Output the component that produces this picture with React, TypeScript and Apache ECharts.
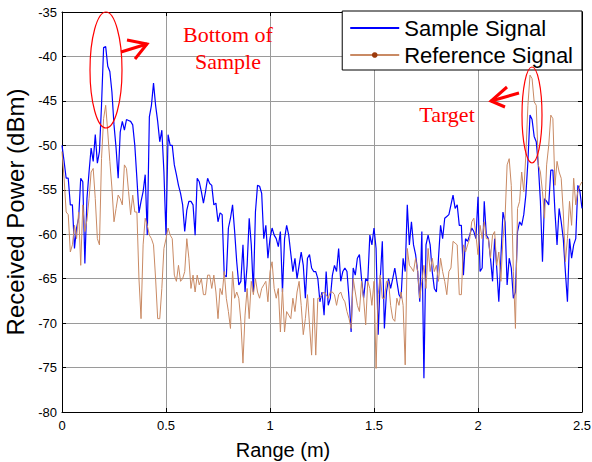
import React, { useEffect, useRef } from "react";
import * as echarts from "echarts";

// Range samples (m): 0.00 .. 2.50, one sample every 0.01 m
const rangeStart = 0;
const rangeStepM = 0.01;

// Received power of the sample signal (dBm)
const sampleSignal = [
  -50.0, -51.8, -53.7, -53.7, -56.7, -56.7, -61.6, -59.3, -58.2, -53.7,
  -54.1, -63.3, -56.0, -53.0, -50.3, -51.8, -48.8, -52.0, -50.7, -45.5,
  -39.0, -38.9, -41.1, -41.7, -44.0, -47.7, -50.3, -53.7, -48.5, -47.3,
  -48.3, -47.1, -47.2, -47.3, -47.7, -50.0, -53.7, -57.6, -56.3, -55.2,
  -53.3, -60.1, -46.8, -45.5, -43.0, -45.5, -47.3, -49.6, -48.3, -53.0,
  -60.1, -48.8, -50.0, -50.0, -52.2, -53.3, -54.5, -55.4, -56.7, -59.7,
  -57.3, -56.3, -56.3, -56.7, -60.1, -53.7, -54.1, -55.2, -56.5, -55.2,
  -53.7, -54.3, -54.5, -56.7, -56.5, -58.6, -57.6, -57.8, -64.6, -64.8,
  -59.3, -58.2, -56.7, -59.7, -63.1, -65.7, -65.3, -61.2, -66.5, -63.5,
  -58.2, -61.2, -66.5, -57.5, -54.5, -54.6, -55.4, -60.5, -59.0, -62.7,
  -60.5, -59.3, -60.1, -60.5, -61.4, -59.7, -66.5, -60.5, -59.0, -60.1,
  -62.2, -64.2, -62.7, -65.0, -63.5, -62.0, -63.5, -67.2, -62.7, -62.3,
  -63.8, -64.2, -64.2, -65.0, -67.6, -66.5, -69.1, -64.2, -68.0, -67.2,
  -64.6, -63.5, -64.2, -61.6, -65.3, -64.2, -63.8, -64.2, -67.2, -71.0,
  -63.8, -64.6, -62.7, -62.3, -65.0, -67.2, -65.0, -65.3, -60.1, -61.2,
  -59.3, -61.6, -71.3, -65.0, -60.8, -70.6, -66.5, -65.0, -66.1, -65.0,
  -63.8, -65.3, -66.8, -67.2, -62.7, -64.2, -56.7, -61.2, -58.6, -61.2,
  -62.3, -64.2, -67.6, -59.7, -76.2, -61.2, -60.1, -61.2, -64.2, -66.1,
  -66.5, -62.7, -59.0, -60.5, -58.2, -58.0, -57.8, -56.7, -55.6, -57.1,
  -56.7, -59.0, -59.0, -64.6, -60.5, -60.8, -60.1, -59.3, -59.7, -60.5,
  -55.8, -64.2, -63.8, -56.3, -60.1, -60.5, -62.7, -65.3, -60.5, -63.8,
  -67.6, -62.7, -57.5, -58.6, -65.7, -62.7, -63.8, -67.2, -66.5, -59.7,
  -58.6, -59.0, -57.8, -55.6, -51.8, -46.6, -47.1, -49.0, -49.6, -52.2,
  -56.3, -63.1, -56.0, -56.3, -56.7, -52.8, -52.8, -57.5, -61.2, -57.1,
  -58.6, -60.5, -64.2, -67.6, -60.5, -62.7, -61.2, -60.5, -54.5, -55.2,
  -57.1,
];

// Received power of the reference signal (dBm)
const referenceSignal = [
  -50.7, -53.7, -57.5, -57.8, -62.0, -61.2, -59.0, -60.5, -57.5, -63.5,
  -56.7, -59.7, -58.4, -56.0, -53.0, -52.6, -56.0, -60.5, -61.2, -51.5,
  -47.0, -45.5, -48.5, -51.8, -54.8, -58.6, -57.1, -55.6, -56.0, -56.7,
  -52.2, -52.6, -55.2, -57.8, -55.6, -57.5, -57.5, -65.0, -69.5, -61.2,
  -58.2, -59.0, -60.1, -60.5, -61.2, -65.0, -69.5, -69.5, -66.1, -61.6,
  -60.5, -59.3, -60.1, -60.5, -64.6, -65.3, -63.5, -65.3, -65.0, -64.2,
  -60.5, -62.7, -66.1, -64.6, -66.5, -64.6, -65.7, -65.0, -66.8, -66.8,
  -64.6, -64.6, -66.1, -64.6, -66.5, -69.5, -66.1, -66.8, -64.2, -67.2,
  -68.7, -70.6, -64.2, -67.2, -66.5, -67.2, -69.8, -74.5, -69.1, -66.1,
  -69.5, -65.3, -66.8, -65.0, -66.5, -67.2, -66.1, -65.7, -65.3, -67.6,
  -64.2, -63.1, -66.1, -67.2, -66.1, -71.0, -66.1, -71.0, -68.7, -69.1,
  -69.5, -67.2, -68.7, -66.5, -65.3, -68.0, -71.3, -69.5, -66.8, -70.2,
  -73.6, -67.2, -73.6, -67.2, -67.2, -66.8, -66.5, -66.8, -67.2, -66.5,
  -66.5, -66.8, -68.0, -66.8, -66.5, -67.2, -67.6, -68.7, -69.5, -70.6,
  -65.0, -66.5, -68.0, -68.7, -65.3, -67.2, -70.2, -65.3, -66.1, -68.0,
  -65.3, -75.1, -66.8, -64.6, -67.2, -67.2, -65.3, -65.3, -68.0, -69.5,
  -69.8, -67.2, -68.0, -66.5, -68.0, -74.7, -61.6, -63.5, -63.8, -64.2,
  -62.7, -64.2, -67.2, -65.3, -63.5, -66.1, -61.6, -64.2, -62.7, -64.2,
  -63.5, -65.3, -62.7, -64.2, -65.3, -66.8, -64.2, -63.8, -60.8, -61.0,
  -61.2, -66.8, -66.8, -61.2, -62.0, -61.2, -60.5, -58.6, -58.2, -60.1,
  -62.3, -59.0, -60.5, -58.6, -60.5, -60.5, -62.7, -60.1, -59.7, -63.5,
  -62.0, -65.3, -60.5, -58.2, -52.2, -51.5, -54.5, -64.2, -70.6, -57.1,
  -56.3, -53.0, -55.2, -51.1, -45.5, -42.1, -42.5, -45.1, -45.5, -52.2,
  -53.0, -55.2, -58.2, -52.2, -50.0, -46.6, -47.0, -54.5, -51.8, -53.0,
  -53.7, -57.5, -63.1, -60.5, -56.3, -59.0, -53.7, -56.7, -55.2, -54.5,
  -54.1,
];

const seriesNames = ["Sample Signal", "Reference Signal"];
const xTicks = { min: 0, max: 2.5, interval: 0.5 };
const yTicks = { min: -80, max: -35, interval: 5 };
const annotationTexts = ["Bottom of\nSample", "Target"];

const toPairs = (vals: number[]) =>
  vals.map((v, i) => [+(rangeStart + i * rangeStepM).toFixed(2), v]);

export default function App() {
  const ref = useRef<HTMLDivElement>(null);

  useEffect(() => {
    if (!ref.current) return;
    const chart = echarts.init(ref.current, null, { renderer: "svg" });
    const sans = "Liberation Sans, Arial, Helvetica, sans-serif";
    const serif = "Liberation Serif, Times New Roman, serif";
    const red = "#ff0000";
    const grid = {
      left: 62,
      right: 10,
      top: 12,
      bottom: 50,
      containLabel: false,
      outerBoundsMode: "none",
    };

    const baseX = {
      type: "value",
      min: xTicks.min,
      max: xTicks.max,
      interval: xTicks.interval,
      axisLine: { show: true, onZero: false, lineStyle: { color: "#000", width: 1 } },
      axisTick: { show: true, inside: true, length: 4, lineStyle: { color: "#000" } },
    };
    const baseY = {
      type: "value",
      min: yTicks.min,
      max: yTicks.max,
      interval: yTicks.interval,
      axisLine: { show: true, onZero: false, lineStyle: { color: "#000", width: 1 } },
      axisTick: { show: true, inside: true, length: 4, lineStyle: { color: "#000" } },
    };

    chart.setOption({
      animation: false,
      backgroundColor: "#fff",
      grid,
      legend: {
        data: [
          { name: seriesNames[0], itemStyle: { opacity: 0 } },
          { name: seriesNames[1] },
        ],
        orient: "vertical",
        right: 10,
        top: 11,
        backgroundColor: "#fff",
        borderColor: "#000",
        borderWidth: 1,
        borderRadius: 0,
        padding: [6, 9, 4, 7],
        itemGap: 5,
        itemWidth: 49,
        itemHeight: 7,
        textStyle: { fontSize: 22, fontFamily: sans, color: "#000" },
      },
      xAxis: [
        {
          ...baseX,
          position: "bottom",
          axisLabel: { color: "#000", fontSize: 13, fontFamily: sans, margin: 7 },
          splitLine: { show: true, lineStyle: { color: "#9a9a9a", width: 1 } },
          name: "Range (m)",
          nameLocation: "middle",
          nameGap: 28,
          nameTextStyle: { fontSize: 20, fontFamily: sans, color: "#000", padding: [0, 78, 0, 0] },
        },
        {
          ...baseX,
          position: "top",
          axisLabel: { show: false },
          splitLine: { show: false },
        },
      ],
      yAxis: [
        {
          ...baseY,
          position: "left",
          axisLabel: { color: "#000", fontSize: 13, fontFamily: sans, margin: 5 },
          splitLine: { show: true, lineStyle: { color: "#9a9a9a", width: 1 } },
          name: "Received Power (dBm)",
          nameLocation: "middle",
          nameGap: 33,
          nameTextStyle: { fontSize: 24, fontFamily: sans, color: "#000" },
        },
        {
          ...baseY,
          position: "right",
          axisLabel: { show: false },
          splitLine: { show: false },
        },
      ],
      series: [
        {
          name: seriesNames[0],
          type: "line",
          data: toPairs(sampleSignal),
          symbol: "none",
          lineStyle: { color: "#0000ff", width: 1.2 },
          itemStyle: { color: "#0000ff" },
          z: 2,
        },
        {
          name: seriesNames[1],
          type: "line",
          data: toPairs(referenceSignal),
          symbol: "circle",
          symbolSize: 5,
          showSymbol: false,
          lineStyle: { color: "#c98a64", width: 1 },
          itemStyle: { color: "#9c3a0c" },
          z: 3,
        },
      ],
      graphic: [
        {
          type: "ellipse",
          shape: { cx: 106, cy: 70, rx: 16, ry: 58 },
          style: { fill: "none", stroke: red, lineWidth: 1.2 },
          z: 10,
        },
        {
          type: "polyline",
          shape: { points: [[121, 52], [147, 44]] },
          style: { stroke: red, lineWidth: 3, fill: "none" },
          z: 10,
        },
        {
          type: "polyline",
          shape: { points: [[127, 40], [147, 44], [135, 59]] },
          style: { stroke: red, lineWidth: 3, fill: "none" },
          z: 10,
        },
        {
          type: "text",
          x: 228,
          y: 21,
          style: {
            text: annotationTexts[0],
            fill: red,
            font: `22px ${serif}`,
            textAlign: "center",
            lineHeight: 27,
          },
          z: 10,
        },
        {
          type: "ellipse",
          shape: { cx: 532, cy: 115, rx: 10, ry: 48 },
          style: { fill: "none", stroke: red, lineWidth: 1.2 },
          z: 10,
        },
        {
          type: "polyline",
          shape: { points: [[519, 93], [491, 101]] },
          style: { stroke: red, lineWidth: 3, fill: "none" },
          z: 10,
        },
        {
          type: "polyline",
          shape: { points: [[507, 87], [491, 101], [505, 107]] },
          style: { stroke: red, lineWidth: 3, fill: "none" },
          z: 10,
        },
        {
          type: "text",
          x: 447,
          y: 103,
          style: {
            text: annotationTexts[1],
            fill: red,
            font: `22px ${serif}`,
            textAlign: "center",
          },
          z: 10,
        },
      ],
    });
    return () => chart.dispose();
  }, []);

  return (
    <div
      ref={ref}
      style={{ position: "fixed", left: 0, top: 0, width: 592, height: 462, background: "#fff" }}
    />
  );
}
